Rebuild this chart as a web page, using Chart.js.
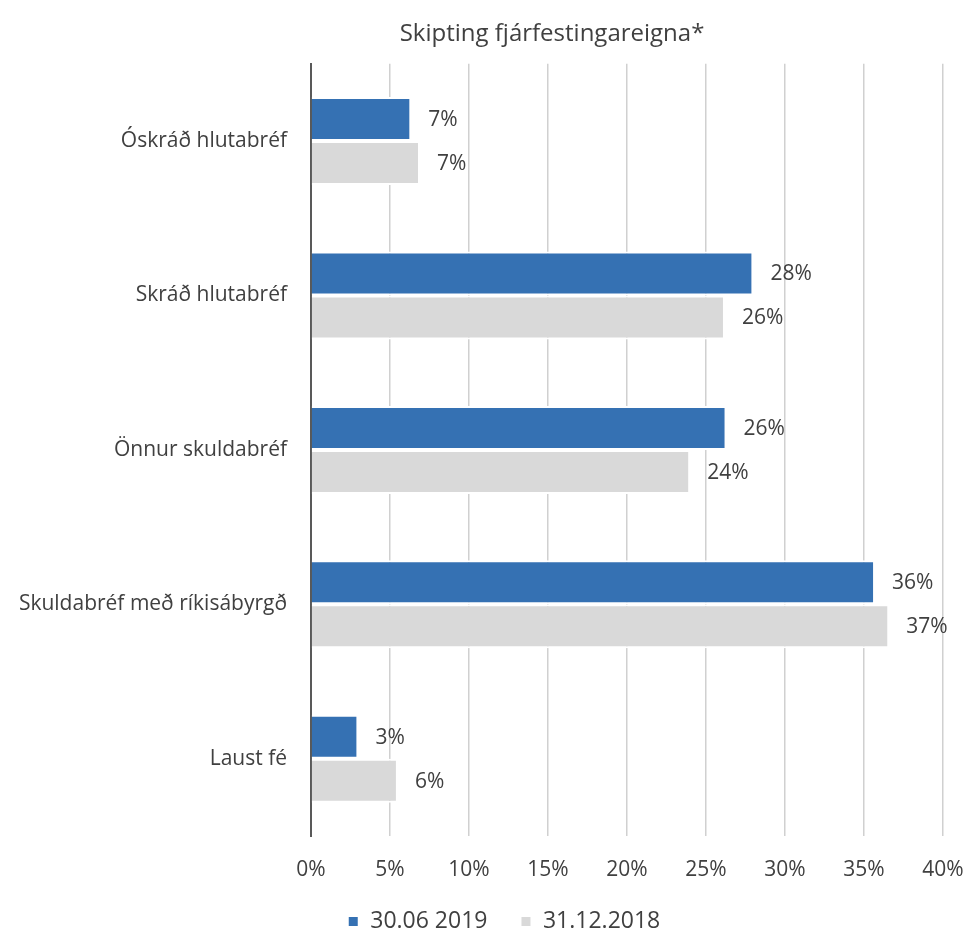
<!DOCTYPE html>
<html><head><meta charset="utf-8">
<script src="https://cdn.jsdelivr.net/npm/chart.js@4/dist/chart.umd.min.js"></script>
<style>html,body{margin:0;padding:0;background:#fff}canvas{display:block}</style>
</head><body>
<canvas id="c" width="964" height="931"></canvas>
<script>
const categories = ['Óskráð hlutabréf', 'Skráð hlutabréf', 'Önnur skuldabréf', 'Skuldabréf með ríkisábyrgð', 'Laust fé'];
const seriesNames = ['30.06 2019', '31.12.2018'];
const values2019 = [6.35, 28.0, 26.3, 35.7, 3.0];
const labels2019 = ['7%', '28%', '26%', '36%', '3%'];
const values2018 = [6.9, 26.2, 24.0, 36.6, 5.5];
const labels2018 = ['7%', '26%', '24%', '37%', '6%'];
const xTickValues = [0, 5, 10, 15, 20, 25, 30, 35, 40];
const titleText = 'Skipting fjárfestingareigna*';

const FONT = "'Open Sans', sans-serif";
const TEXT = '#404040';
const X_AXIS_H = 55;
const LEGEND_H = 931 - 836 - X_AXIS_H;
const LEGEND_FONT = 23;
const LEGEND_PAD = 33;

const valueLabels = {
  id: 'valueLabels',
  afterDatasetsDraw(chart) {
    const ctx = chart.ctx;
    ctx.save();
    ctx.font = "21px " + FONT;
    ctx.fillStyle = TEXT;
    ctx.textBaseline = 'middle';
    ctx.textAlign = 'left';
    chart.data.datasets.forEach((ds, i) => {
      const meta = chart.getDatasetMeta(i);
      meta.data.forEach((el, j) => {
        ctx.fillText(ds.valueLabels[j], el.x + 17, el.y + 1);
      });
    });
    ctx.restore();
  }
};

const boxShift = {
  id: 'boxShift',
  beforeLayout(chart) {
    const lg = chart.legend;
    if (lg && !lg._patched) {
      const orig = lg.fit;
      lg.fit = function () { orig.call(this); this.height = LEGEND_H; };
      lg._patched = true;
    }
  },
  afterLayout(chart) {
    const lg = chart.legend;
    const ldx = 22;
    lg.left += ldx; lg.right += ldx;
    lg.top = 921.5 - LEGEND_PAD - LEGEND_FONT / 2;
    lg.bottom = chart.height;
    const t = chart.titleBlock;
    const tdx = 70;
    t.left += tdx; t.right += tdx;
  }
};

new Chart(document.getElementById('c'), {
  type: 'bar',
  data: {
    labels: categories,
    datasets: [
      { label: seriesNames[0], data: values2019, valueLabels: labels2019,
        backgroundColor: '#3571B3', borderColor: '#ffffff', borderWidth: 2 },
      { label: seriesNames[1], data: values2018, valueLabels: labels2018,
        backgroundColor: '#D9D9D9', borderColor: '#ffffff', borderWidth: 2 }
    ]
  },
  options: {
    indexAxis: 'y',
    responsive: false,
    animation: false,
    devicePixelRatio: 1,
    categoryPercentage: 0.57,
    barPercentage: 1.0,
    layout: { padding: { left: 0, right: 0, top: 0, bottom: 0 } },
    plugins: {
      title: { display: true, text: titleText, color: TEXT,
        font: { family: FONT, size: 24, weight: 'normal' }, padding: { top: 20, bottom: 15 } },
      legend: { display: true, position: 'bottom',
        labels: { color: TEXT, font: { family: FONT, size: LEGEND_FONT }, boxWidth: 11, boxHeight: 11, padding: LEGEND_PAD } },
      tooltip: { enabled: false }
    },
    scales: {
      x: {
        type: 'linear', min: 0, max: 40,
        afterBuildTicks(s) { s.ticks = xTickValues.map(v => ({ value: v })); },
        afterFit(s) { s.paddingRight = 21; s.paddingLeft = 0; s.height = X_AXIS_H; },
        ticks: { callback: v => v + '%', color: TEXT, font: { family: FONT, size: 21 }, padding: 21, maxRotation: 0 },
        grid: { color: c => (c.tick && c.tick.value === 0) ? 'rgba(0,0,0,0)' : '#D0D0D0', lineWidth: 1.5, drawTicks: false },
        border: { display: false }
      },
      y: {
        type: 'category', offset: true,
        afterFit(s) { s.width = 311; },
        ticks: { color: TEXT, font: { family: FONT, size: 21 }, padding: 24 },
        grid: { display: false, drawTicks: false },
        border: { display: true, color: '#595959', width: 2 }
      }
    }
  },
  plugins: [valueLabels, boxShift]
});
</script>
</body></html>
